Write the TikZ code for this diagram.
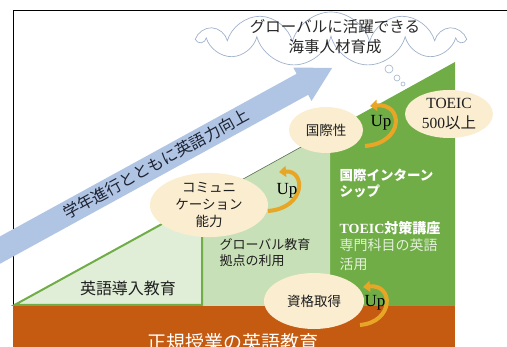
\documentclass[tikz,border=0pt]{standalone}
\usepackage{fontspec}
\setmainfont{Liberation Serif}
\newfontfamily\jp{Noto Sans CJK JP}
\usetikzlibrary{shapes.symbols,shapes.geometric,arrows.meta}
\definecolor{bandorange}{RGB}{197,90,17}
\definecolor{dkgreen}{RGB}{112,173,71}
\definecolor{midgreen}{RGB}{200,224,183}
\definecolor{ltgreen}{RGB}{224,238,216}
\definecolor{arrowblue}{RGB}{176,196,228}
\definecolor{cream}{RGB}{250,237,208}
\definecolor{cloudline}{RGB}{160,178,204}
\definecolor{gold}{RGB}{232,166,38}
\definecolor{paletxt}{RGB}{226,240,217}
\definecolor{darktxt}{RGB}{30,30,30}
\tikzset{
  bubble/.style={ellipse, fill=cream, inner sep=0pt, align=center, text=darktxt, font=\jp\fontsize{13.5}{17}\selectfont},
  uparc/.style={draw=gold, line width=4pt, -{Triangle[width=11pt,length=7pt]}},
  uptext/.style={font=\fontsize{17}{17}\selectfont, text=black},
  whitetxt/.style={text=white, align=left, anchor=west, font=\jp\bfseries\fontsize{13.5}{16}\selectfont},
  puff/.style={circle, draw=cloudline, fill=white, line width=0.6pt, inner sep=0pt},
}
\begin{document}
\begin{tikzpicture}[x=1pt,y=-1pt]
\useasboundingbox (0,0) rectangle (507,347);
\clip (0,0) rectangle (507,347);
% frame
\draw[black, line width=0.7pt] (13,10) rectangle (540,380);
% bottom band
\fill[bandorange] (13.4,306) rectangle (455,380);
% green steps
\fill[dkgreen] (13.4,306) -- (455,62) -- (455,306) -- cycle;
\fill[midgreen] (13.4,306) -- (330,131) -- (330,306) -- cycle;
\draw[draw={rgb,255:red,95;green,115;blue,90}, line width=0.6pt] (13.4,306) -- (330,131);
\filldraw[fill=ltgreen, draw=dkgreen, line width=2pt, line join=miter] (14.5,305) -- (202,202) -- (202,305) -- cycle;
% blue arrow
\fill[arrowblue] (-27.9,251.7) -- (296.6,73.8) -- (293.3,67.6) -- (332.2,67.9) -- (311.5,101.0) -- (308.2,94.8) -- (-16.3,272.7) -- cycle;
\node[rotate=28.8, font=\jp\fontsize{16}{16}\selectfont, text={rgb,255:red,30;green,35;blue,50}] (grade) at (156,164) {学年進行とともに英語力向上};
% cloud
\node[cloud, cloud puffs=11, cloud ignores aspect, minimum width=262pt, minimum height=54pt, draw=cloudline, fill=white, line width=0.7pt] (goal) at (331,39) {};
\node[align=center, font=\jp\fontsize{15.5}{20}\selectfont, text={rgb,255:red,40;green,40;blue,40}] (goaltxt) at (335,37) {グローバルに活躍できる\\海事人材育成};
\node[puff, minimum size=8pt] (c1) at (389,69) {};
\node[puff, minimum size=6pt] (c2) at (397,78) {};
\node[puff, minimum size=4pt] (c3) at (403,84) {};
% region texts
\node[font=\jp\fontsize{16}{16}\selectfont, text=darktxt] (intro) at (128,288) {英語導入教育};
\node[anchor=west, align=left, font=\jp\fontsize{13}{16}\selectfont, text=darktxt] (hub) at (216,253) {グローバル教育\\拠点の利用};
\node[whitetxt] (intern) at (336,183) {国際インターン\\シップ};
\node[whitetxt, font=\bfseries\fontsize{14}{14}\selectfont] (toeicc) at (336,228) {TOEIC{\jp 対策講座}};
\node[whitetxt, text=paletxt, font=\jp\fontsize{14}{19}\selectfont] (senmon) at (336,255) {専門科目の英語\\活用};
\node[text=white, font=\jp\fontsize{19}{19}\selectfont] (regular) at (233,342) {正規授業の英語教育};
% bubbles
\node[bubble, minimum width=74pt, minimum height=46pt] (kokusai) at (326,130) {国際性};
\node[bubble, minimum width=88pt, minimum height=48pt, font=\fontsize{15.5}{19.5}\selectfont] (toeic) at (449,114) {TOEIC\\500{\jp 以上}};
\node[bubble, minimum width=118pt, minimum height=56pt] (comm) at (209,205) {コミュニ\\ケーション\\能力};
\node[bubble, minimum width=100pt, minimum height=56pt] (shikaku) at (314,301) {資格取得};
% up arrows
\draw[uparc] (365,146) .. controls (404,143) and (404,103) .. (370,106);
\node[uptext] (up1) at (381,123) {Up};
\draw[uparc] (268,211) .. controls (306,208) and (306,170) .. (279,172);
\node[uptext] (up2) at (287,191) {Up};
\draw[uparc] (360,325) .. controls (394,322) and (394,284) .. (363,287);
\node[uptext] (up3) at (375,303) {Up};
\end{tikzpicture}
\end{document}
